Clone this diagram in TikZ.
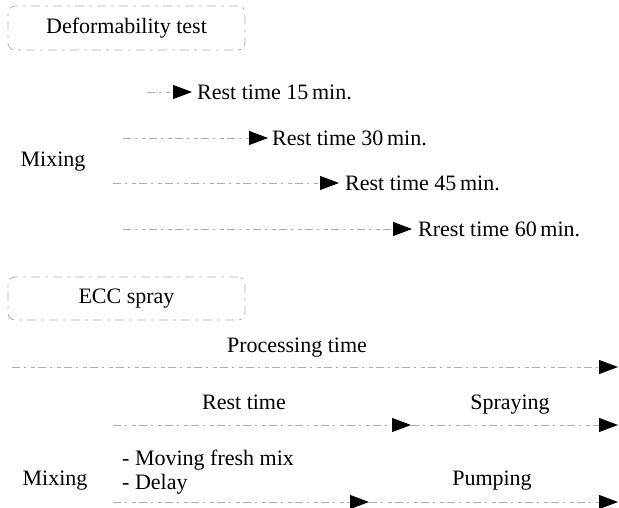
\documentclass[tikz,border=0pt]{standalone}
\usepackage{fontspec}
\setmainfont{Liberation Serif}
\newfontfamily\diagserif{Liberation Serif}
\usetikzlibrary{arrows.meta}
\begin{document}
\begin{tikzpicture}[x=1pt,y=1pt,
  lbl/.style={font=\diagserif\fontsize{22}{24}\selectfont, inner sep=0pt},
  faint/.style={draw=gray!65, line width=0.8pt, dash pattern=on 8pt off 4pt on 2pt off 5pt on 4pt off 3pt},
  flow/.style={faint, -{Triangle[length=19pt,width=14pt,color=black]}},
  gbox/.style={draw=gray!65, line width=0.8pt, dash pattern=on 9pt off 5pt on 3pt off 5pt, rounded corners=7pt,
               font=\diagserif\fontsize{22}{24}\selectfont, minimum width=237pt, inner sep=0pt}]
\useasboundingbox (0,0) rectangle (619,-508);

% ---- Deformability test ----
\node[gbox, minimum height=44pt] (defbox) at (126.5,-28) {Deformability test};

\coordinate (a1) at (147,-92);
\node[lbl, anchor=west] (r1) at (197,-92) {Rest time 15\,min.};
\draw[flow] (a1) -- ([xshift=-5pt]r1.west);

\coordinate (a2) at (123,-138);
\node[lbl, anchor=west] (r2) at (272,-138) {Rest time 30\,min.};
\draw[flow] (a2) -- ([xshift=-4pt]r2.west);

\node[lbl] (mix1) at (53,-162) {Mixing};

\coordinate (a3) at (113,-183);
\node[lbl, anchor=west] (r3) at (345,-183) {Rest time 45\,min.};
\draw[flow] (a3) -- ([xshift=-6pt]r3.west);

\coordinate (a4) at (123,-229);
\node[lbl, anchor=west] (r4) at (418,-229) {Rrest time 60\,min.};
\draw[flow] (a4) -- ([xshift=-6pt]r4.west);

% ---- ECC spray ----
\node[gbox, minimum height=43pt] (eccbox) at (126.5,-298.5) {ECC spray};

\node[lbl] (proc) at (297,-348) {Processing time};
\coordinate (p0) at (12,-367);
\coordinate (p1) at (618,-367);
\draw[flow] (p0) -- (p1);

\node[lbl, anchor=base] (rest) at (244,-409) {Rest time};
\node[lbl, anchor=base] (spray) at (510,-409) {Spraying};
\coordinate (q0) at (113,-425);
\coordinate (q1) at (411,-425);
\coordinate (q2) at (618,-425);
\draw[flow] (q0) -- (q1);
\draw[flow] (q1) -- (q2);

\node[lbl, anchor=west] (mov) at (122,-460) {- Moving fresh mix};
\node[lbl, anchor=west] (del) at (122,-484) {- Delay};
\node[lbl, anchor=base] (mix2) at (55,-485) {Mixing};
\node[lbl, anchor=base] (pump) at (492,-485) {Pumping};
\coordinate (u0) at (113,-502);
\coordinate (u1) at (369,-502);
\coordinate (u2) at (618,-502);
\draw[flow] (u0) -- (u1);
\draw[flow] (u1) -- (u2);
\end{tikzpicture}
\end{document}
